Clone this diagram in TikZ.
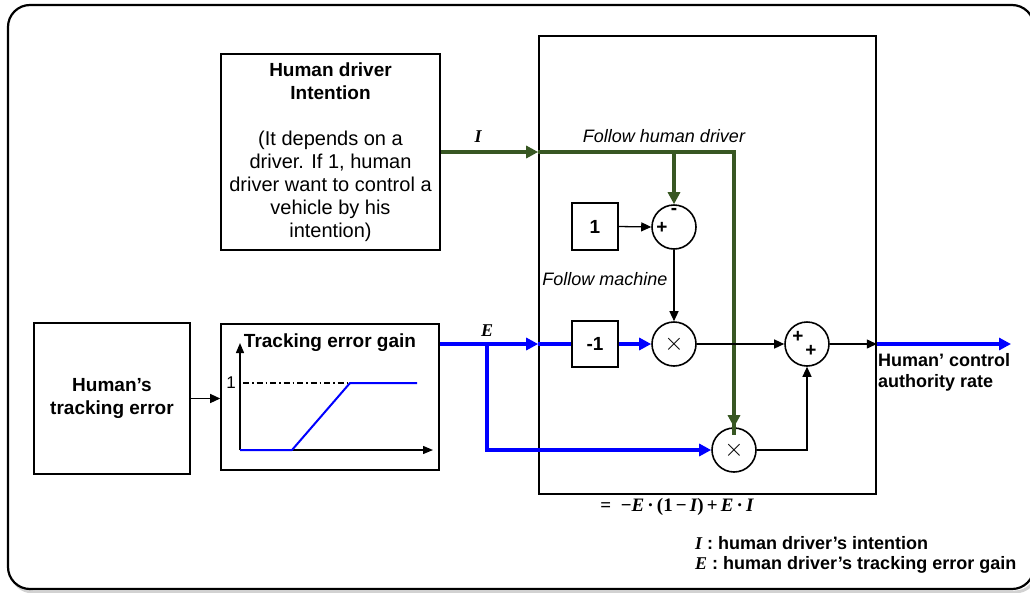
\documentclass[tikz,border=0pt]{standalone}
\usepackage{fontspec}
\setmainfont{Liberation Sans}
\newfontfamily\lserif{Liberation Serif}
\usetikzlibrary{arrows.meta}
\definecolor{igreen}{RGB}{56,87,35}
\definecolor{eblue}{RGB}{0,0,255}
\newcommand{\fsz}[2]{\fontsize{#1}{#2}\selectfont}
\newcommand{\vbi}[1]{{\lserif\bfseries\itshape #1}}
\begin{document}
\begin{tikzpicture}[x=1pt,y=-1pt,
  blk/.style={draw, line width=1.6pt, inner sep=0pt},
  op/.style={draw, circle, line width=1.6pt, minimum size=44pt, inner sep=0pt, fill=white},
  sig/.style={draw=black, line width=1.3pt, -{Triangle[length=10pt,width=9pt]}},
  gline/.style={draw=igreen, line width=4.5pt},
  garr/.style={gline, -{Triangle[length=12pt,width=12pt]}},
  bline/.style={draw=eblue, line width=4.5pt},
  barr/.style={bline, -{Triangle[length=12pt,width=12pt]}},
  sgn/.style={inner sep=0pt, font=\fsz{19}{19}\bfseries},
  lbl/.style={inner sep=0pt}]
\useasboundingbox (0,0) rectangle (1030,592);

% outer frame with a soft shadow
\draw[gray!35, line width=3pt, rounded corners=22pt] (11,8) rectangle (1037,592);
\draw[black, line width=2.2pt, rounded corners=22pt, fill=white] (8,5) rectangle (1034,589);

% main blocks
\node[blk, minimum width=219pt, minimum height=196pt, align=center, font=\fsz{20}{23}] (hdi) at (330.5,152)
  {\fsz{19}{23}\bfseries Human driver\\\fsz{19}{23}\bfseries Intention\\[23pt]
   \fsz{20}{23}\mdseries (It depends on a\\driver. If 1, human\\driver want to control a\\vehicle by his\\intention)};
\node[blk, minimum width=156pt, minimum height=151pt, align=center, font=\fsz{19}{23}\bfseries] (hte) at (112,398.5)
  {Human’s\\tracking error};
\node[blk, minimum width=218pt, minimum height=146pt] (geb) at (330,397) {};
\node[lbl, font=\fsz{19}{19}\bfseries] (gebt) at (330,343) {Tracking error gain};
\node[blk, minimum width=337pt, minimum height=458pt] (big) at (707.5,265) {};

% gain curve inside the tracking error block
\draw[line width=1.3pt, -{Triangle[length=10pt,width=8pt]}] (240,450) -- (240,343);
\draw[line width=1.3pt, -{Triangle[length=10pt,width=8pt]}] (240,450) -- (433,450);
\draw[line width=1.2pt, dash pattern=on 6pt off 3pt on 1.5pt off 3pt] (243,383) -- (350,383);
\node[lbl, font=\fsz{17}{17}] (one1) at (231,383) {1};
\draw[eblue, line width=2pt, line join=round] (240,450) -- (292,450) -- (350,383) -- (417,383);

% constants and operators
\node[blk, minimum width=46pt, minimum height=47pt, font=\fsz{19}{19}\bfseries] (one) at (595,226.5) {1};
\node[blk, minimum width=46pt, minimum height=46pt, font=\fsz{19}{19}\bfseries] (neg) at (595,344) {-1};
\node[op] (s1) at (674,227) {};
\node[op, font=\fsz{24}{24}] (m1) at (674,344) {$\times$};
\node[op] (s2) at (807,344) {};
\node[op, font=\fsz{24}{24}] (m2) at (734,450) {$\times$};
\node[sgn] (s1m) at (674,211) {-};
\node[sgn] (s1p) at (662,228) {+};
\node[sgn] (s2p1) at (798,337) {+};
\node[sgn] (s2p2) at (811,351) {+};

% intention signal I
\coordinate (ibr) at (674,152);
\draw[garr] (hdi.east) -- (hdi.east -| big.west);
\draw[gline] (hdi.east -| big.west) -- (hdi.east -| m2) -- ([yshift=-8pt]m2.north);
\draw[garr] (hdi.east -| m2) -- (m2.north);
\draw[garr] (ibr) -- (s1.north);
\node[lbl, font=\fsz{18}{18}] (ilab) at (478,137) {\vbi{I}};
\node[lbl, font=\fsz{18}{18}\itshape] (fhd) at (664,136) {Follow human driver};

% tracking error gain signal E
\coordinate (ebr) at (487,344);
\draw[sig] (hte.east) -- (hte.east -| geb.west);
\draw[barr] (geb.east |- m1) -- (big.west |- m1);
\draw[bline] (big.west |- m1) -- (neg.west);
\draw[barr] (neg.east) -- (m1.west);
\draw[barr] (ebr) -- (ebr |- m2) -- (m2.west);
\node[lbl, font=\fsz{18}{18}] (elab) at (487,331) {\vbi{E}};

% inner wiring
\draw[sig] (one.east) -- (s1.west);
\draw[sig] (s1.south) -- (m1.north);
\node[lbl, font=\fsz{18}{18}\itshape] (fm) at (605,279) {Follow machine};
\draw[sig] (m1.east) -- (s2.west);
\draw[sig] (m2.east) -| (s2.south);
\draw[sig] (s2.east) -- (big.east |- s2);
\coordinate (out) at (1011,344);
\draw[barr] (big.east |- s2) -- (out);
\node[lbl, anchor=west, align=left, font=\fsz{18}{21}\bfseries] (outl) at (878,372) {Human’ control\\authority rate};

% formula and legend
\node[lbl, font=\fsz{19}{19}\lserif\bfseries] (form) at (677,507) {=\ \ −\vbi{E}\,·\,(1\,−\,\vbi{I})\,+\,\vbi{E}\,·\,\vbi{I}};
\node[lbl, anchor=west, font=\fsz{18}{18}\bfseries] (leg1) at (695,543) {\vbi{I} : human driver’s intention};
\node[lbl, anchor=west, font=\fsz{18}{18}\bfseries] (leg2) at (695,565) {\vbi{E} : human driver’s tracking error gain};
\end{tikzpicture}
\end{document}
